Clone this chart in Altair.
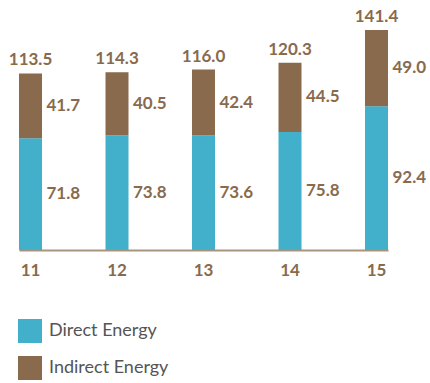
import altair as alt
import pandas as pd

years = ["11", "12", "13", "14", "15"]
direct = [71.8, 73.8, 73.6, 75.8, 92.4]
indirect = [41.7, 40.5, 42.4, 44.5, 49.0]
totals = [113.5, 114.3, 116.0, 120.3, 141.4]
series = ["Direct Energy", "Indirect Energy"]
colors = ["#42afcb", "#896a4d"]

rows = []
for i, y in enumerate(years):
    rows.append({"year": y, "type": series[0], "value": direct[i], "order": 0})
    rows.append({"year": y, "type": series[1], "value": indirect[i], "order": 1})
df = pd.DataFrame(rows)
tot = pd.DataFrame({"year": years, "total": totals})

FONT = "Lato"
BROWN = "#896a4d"

xenc = alt.X("year:N", sort=years,
             scale=alt.Scale(paddingInner=0.734, paddingOuter=0),
             axis=alt.Axis(title=None, labelAngle=0, ticks=False, domainColor="#a89580",
                           domainWidth=2, labelFont=FONT, labelFontSize=17,
                           labelFontWeight="bold", labelColor=BROWN, labelPadding=12, grid=False))
yscale = alt.Scale(domain=[0, 141.4], nice=False)

bars = alt.Chart(df).mark_bar().encode(
    x=xenc,
    y=alt.Y("value:Q", stack="zero", scale=yscale, axis=None),
    color=alt.Color("type:N", sort=series,
                    scale=alt.Scale(domain=series, range=colors),
                    legend=alt.Legend(title=None, orient="none", legendX=-1, legendY=289,
                                      symbolType="square", symbolSize=576, symbolStrokeWidth=0,
                                      labelFont=FONT, labelFontSize=18, labelColor="#555555",
                                      rowPadding=13, labelOffset=7, direction="vertical")),
    order=alt.Order("order:Q"),
)

seglabels = alt.Chart(df).transform_stack(
    stack="value", groupby=["year"], as_=["v0", "v1"], sort=[alt.SortField("order")]
).transform_calculate(
    mid="(datum.v0 + datum.v1) / 2", lbl="format(datum.value, '.1f')"
).mark_text(align="left", baseline="middle", dx=16, font=FONT, fontSize=17,
            fontWeight="bold", color=BROWN).encode(
    x=alt.X("year:N", sort=years),
    y=alt.Y("mid:Q", scale=yscale),
    text="lbl:N",
)

totlabels = alt.Chart(tot).transform_calculate(
    lbl="format(datum.total, '.1f')"
).mark_text(align="center", baseline="middle", dy=-13, font=FONT, fontSize=17,
            fontWeight="bold", color=BROWN).encode(
    x=alt.X("year:N", sort=years),
    y=alt.Y("total:Q", scale=yscale),
    text="lbl:N",
)

chart = alt.layer(bars, seglabels, totlabels).properties(
    width=369, height=220,
    autosize=alt.AutoSizeParams(type="none"),
    padding={"left": 19, "top": 30, "right": 42, "bottom": 133},
).configure_view(stroke=None)

chart.save("out.html", embed_options={"renderer": "svg", "actions": False})
